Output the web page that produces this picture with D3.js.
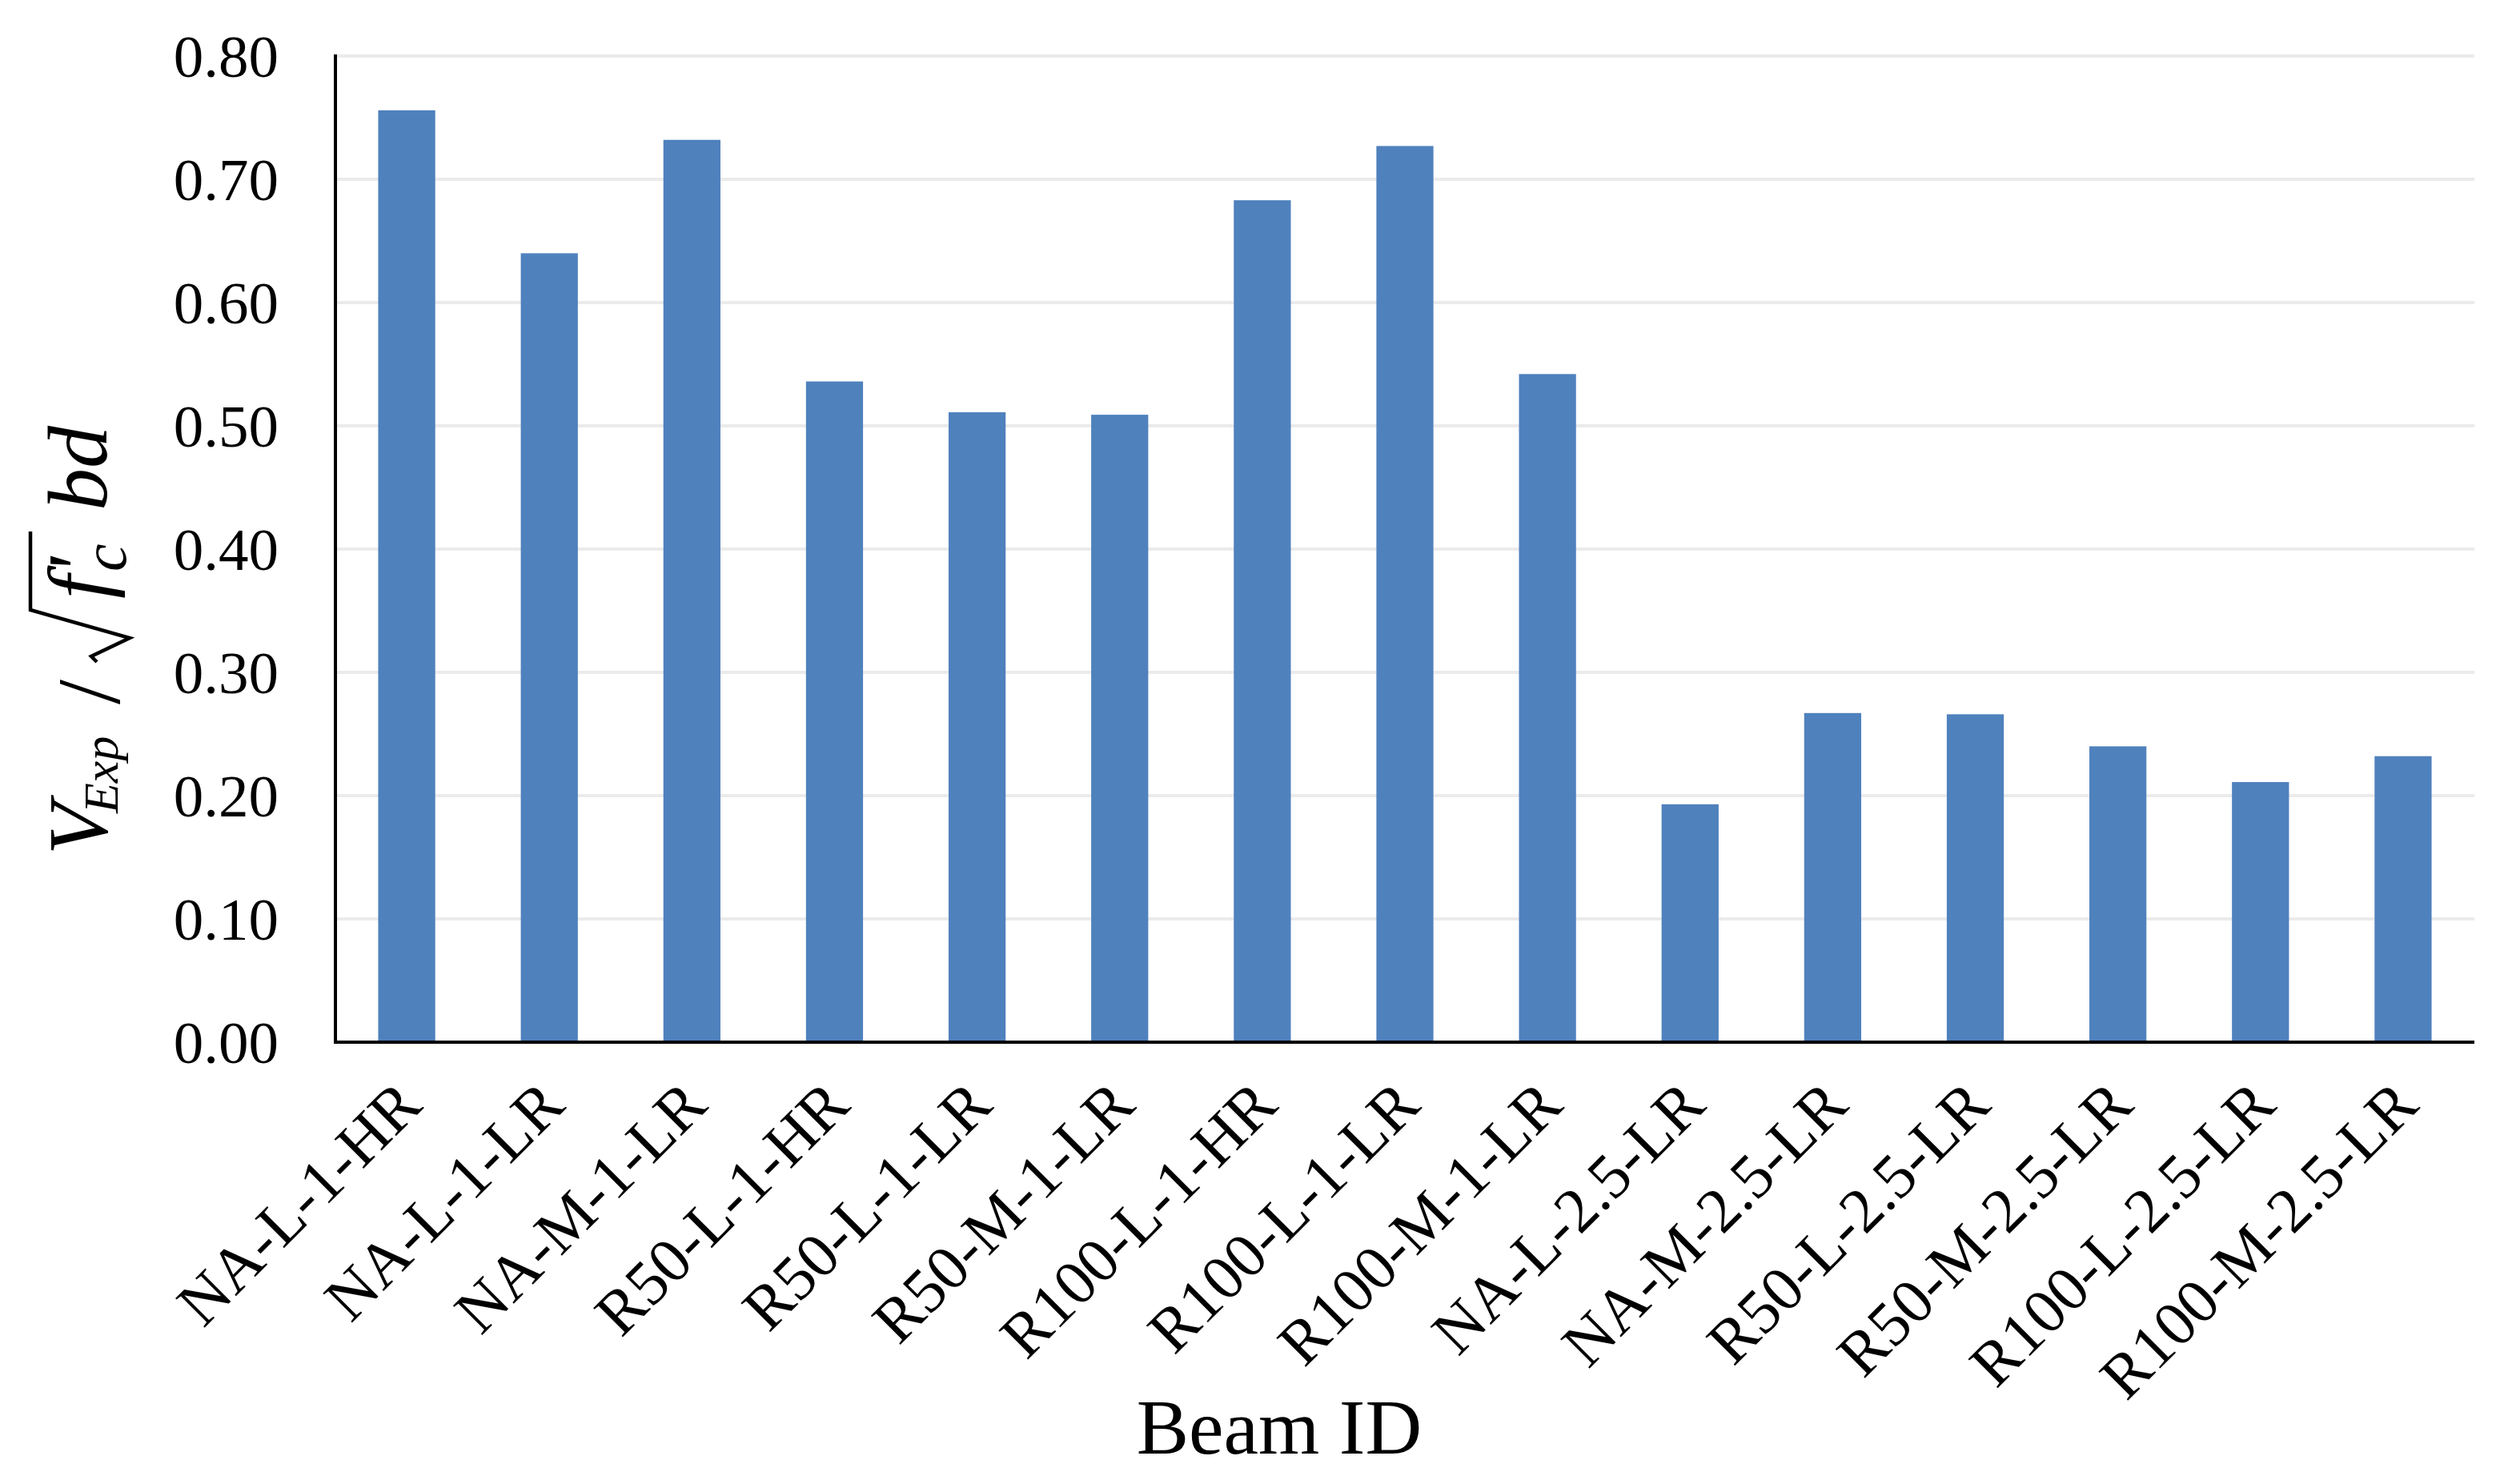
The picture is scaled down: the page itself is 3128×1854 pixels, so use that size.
<!DOCTYPE html>
<html><head><meta charset="utf-8">
<script src="https://cdn.jsdelivr.net/npm/d3@7"></script>
<style>body{margin:0;background:#fff}svg{display:block}</style>
</head><body>
<svg id="c" width="3128" height="1854"></svg>
<script>
const categories = ["NA-L-1-HR","NA-L-1-LR","NA-M-1-LR","R50-L-1-HR","R50-L-1-LR","R50-M-1-LR","R100-L-1-HR","R100-L-1-LR","R100-M-1-LR","NA-L-2.5-LR","NA-M-2.5-LR","R50-L-2.5-LR","R50-M-2.5-LR","R100-L-2.5-LR","R100-M-2.5-LR"];
const values = [0.756,0.640,0.732,0.536,0.511,0.509,0.683,0.727,0.542,0.193,0.267,0.266,0.240,0.211,0.232];
const yTicks = [0,0.1,0.2,0.3,0.4,0.5,0.6,0.7,0.8];
const xTitle = "Beam ID";

const FONT = "'Liberation Serif','Times New Roman',serif";
const svg = d3.select("#c");
const plotL = 419, plotR = 3091, plotT = 70, plotB = 1302;

const x = d3.scaleBand().domain(categories).range([plotL, plotR]).paddingInner(0.6).paddingOuter(0.3);
const y = d3.scaleLinear().domain([0, 0.8]).range([plotB, plotT]);

// gridlines
svg.append("g").selectAll("line").data(yTicks.filter(d => d > 0)).join("line")
  .attr("x1", plotL).attr("x2", plotR)
  .attr("y1", d => y(d)).attr("y2", d => y(d))
  .attr("stroke", "#ebebeb").attr("stroke-width", 4);

// bars
svg.append("g").selectAll("rect").data(values).join("rect")
  .attr("x", (d, i) => x(categories[i]))
  .attr("width", x.bandwidth())
  .attr("y", d => y(d))
  .attr("height", d => y(0) - y(d))
  .attr("fill", "#4f81bd");

// axes lines
svg.append("line").attr("x1", plotL).attr("x2", plotL).attr("y1", y(0.8) - 2).attr("y2", plotB + 2)
  .attr("stroke", "#000").attr("stroke-width", 4);
svg.append("line").attr("x1", plotL - 2).attr("x2", plotR).attr("y1", plotB).attr("y2", plotB)
  .attr("stroke", "#000").attr("stroke-width", 4);

// y tick labels
svg.append("g").selectAll("text").data(yTicks).join("text")
  .attr("x", 348).attr("y", d => y(d)).attr("dy", "0.35em")
  .attr("text-anchor", "end")
  .attr("font-family", FONT).attr("font-size", 75).attr("fill", "#000")
  .text(d => d3.format(".2f")(d));

// x tick labels
svg.append("g").selectAll("text").data(categories).join("text")
  .attr("transform", d => `translate(${x(d) + x.bandwidth() / 2 + 22},1384) rotate(-45)`)
  .attr("text-anchor", "end")
  .attr("font-family", FONT).attr("font-size", 79).attr("fill", "#000")
  .text(d => d);

// x title
svg.append("text").attr("x", 1598).attr("y", 1816).attr("text-anchor", "middle")
  .attr("font-family", FONT).attr("font-size", 98).attr("fill", "#000").text(xTitle);

// y title (rotated): V_Exp / sqrt(f'_c) bd
const F = 106;
const tg = svg.append("g").attr("transform", "translate(133,790) rotate(-90)")
  .attr("font-family", FONT).attr("fill", "#000");
function piece(t, u, v, size, italic) {
  tg.append("text").attr("x", u).attr("y", v).attr("font-size", size)
    .attr("font-style", italic ? "italic" : "normal").text(t);
}
piece("V", -278, 0, F, true);
piece("Exp", -226, 14, 62, true);
piece("/", -90, 16, 112, false);
tg.append("path").attr("d", "M-37,-12 L-30,-19 L-7,29 L28,-95 L126,-95")
  .attr("fill", "none").attr("stroke", "#000").attr("stroke-width", 4.5).attr("stroke-linejoin", "miter");
piece("f'", 42, 0, F, true);
piece("c", 76, 24, 78, true);
piece("bd", 152, 0, F, true);
</script>
</body></html>
